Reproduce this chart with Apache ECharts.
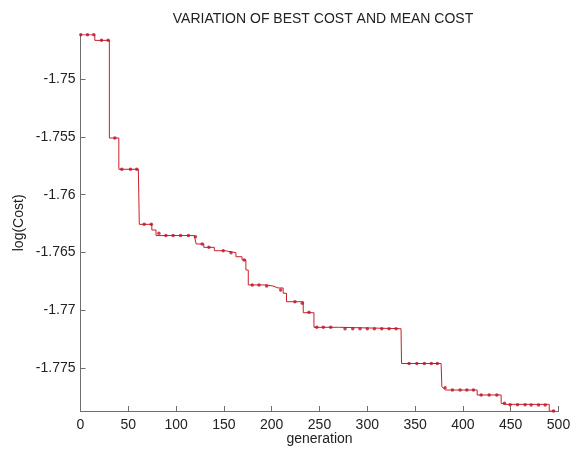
<!DOCTYPE html>
<html>
<head>
<meta charset="utf-8">
<script src="https://cdn.jsdelivr.net/npm/echarts@6/dist/echarts.min.js"></script>
<style>html,body{margin:0;padding:0;background:#fff}#c{width:582px;height:450px}</style>
</head>
<body>
<div id="c"></div>
<script>
// Best-cost staircase (vertices)
var lineGen = [0, 15, 15, 30.2, 30.2, 40.1, 40.1, 60.5, 61.5, 74.6, 74.6, 79, 79, 119, 119, 121, 121, 129, 129, 140, 140, 151, 151, 162.6, 162.6, 169, 169, 173, 173, 175.5, 175.5, 194, 201.3, 206.6, 212, 212, 215.5, 215.5, 233, 233, 244.2, 244.2, 270, 272, 335.3, 335.8, 377.2, 378, 382, 414.9, 414.9, 440, 440, 445, 490.3, 490.3, 496.6];
var lineCost = [-1.74617, -1.74617, -1.74666, -1.74666, -1.75510, -1.75510, -1.75780, -1.75780, -1.76256, -1.76256, -1.76305, -1.76305, -1.76353, -1.76353, -1.76363, -1.76363, -1.76426, -1.76426, -1.76455, -1.76455, -1.76484, -1.76484, -1.76501, -1.76501, -1.76536, -1.76536, -1.76564, -1.76564, -1.76651, -1.76651, -1.76780, -1.76780, -1.76789, -1.76806, -1.76806, -1.76852, -1.76852, -1.76925, -1.76925, -1.77020, -1.77020, -1.77146, -1.77146, -1.77158, -1.77158, -1.77459, -1.77459, -1.77660, -1.77688, -1.77688, -1.77731, -1.77731, -1.77803, -1.77812, -1.77812, -1.77870, -1.77870];
// Sampled points (markers)
var markGen = [0.3, 7.3, 13.9, 22.0, 28.9, 35.9, 43.2, 52.3, 58.9, 66.6, 74.1, 82.0, 89.3, 96.9, 104.7, 112.9, 120.2, 127.3, 134.3, 149.3, 157.4, 171.3, 179.6, 186.7, 194.7, 209.4, 224.3, 232.0, 239.0, 247.1, 254.0, 261.7, 276.7, 284.8, 292.4, 300.0, 307.4, 315.1, 322.8, 330.1, 343.7, 351.8, 359.7, 367.0, 373.3, 381.4, 389.0, 397.1, 404.1, 411.0, 419.1, 427.5, 435.5, 443.5, 449.4, 457.1, 465.1, 471.4, 479.1, 486.1, 494.8];
var markCost = [-1.74617, -1.74617, -1.74617, -1.74666, -1.74666, -1.75510, -1.75780, -1.75780, -1.75780, -1.76256, -1.76256, -1.76334, -1.76353, -1.76353, -1.76353, -1.76353, -1.76363, -1.76426, -1.76455, -1.76484, -1.76501, -1.76564, -1.76780, -1.76780, -1.76789, -1.76824, -1.76925, -1.76939, -1.77016, -1.77146, -1.77146, -1.77146, -1.77158, -1.77158, -1.77158, -1.77158, -1.77158, -1.77158, -1.77158, -1.77158, -1.77459, -1.77459, -1.77459, -1.77459, -1.77459, -1.77668, -1.77688, -1.77688, -1.77688, -1.77688, -1.77731, -1.77731, -1.77731, -1.77803, -1.77815, -1.77815, -1.77815, -1.77818, -1.77818, -1.77818, -1.77870];
var xTicks = [0, 50, 100, 150, 200, 250, 300, 350, 400, 450, 500];
var yTicks = [-1.775, -1.77, -1.765, -1.76, -1.755, -1.75];
var yLabels = ['-1.775', '-1.77', '-1.765', '-1.76', '-1.755', '-1.75'];

function zip(a, b) { return a.map(function (v, i) { return [v, b[i]]; }); }

var chart = echarts.init(document.getElementById('c'), null, {renderer: 'canvas'});
var font = 'Arial, "Liberation Sans", sans-serif';
chart.setOption({
  animation: false,
  backgroundColor: '#fff',
  title: {
    text: 'VARIATION OF BEST COST AND MEAN COST',
    left: 318, textAlign: 'center', top: 7,
    textStyle: {fontSize: 14, fontWeight: 'normal', color: '#222', fontFamily: font}
  },
  grid: {left: 80.5, right: 23.5, top: 34.7, bottom: 39, containLabel: false, outerBoundsMode: 'none'},
  xAxis: {
    type: 'value', min: xTicks[0], max: xTicks[xTicks.length - 1], interval: 50,
    name: 'generation', nameLocation: 'middle', nameGap: 21, nameMoveOverlap: false,
    nameTextStyle: {fontSize: 14, color: '#222', fontFamily: font},
    axisLine: {show: true, lineStyle: {color: '#6e6e6e', width: 1}},
    axisTick: {show: true, inside: true, length: 5, lineStyle: {color: '#6e6e6e'}},
    axisLabel: {fontSize: 14, color: '#222', margin: 7, fontFamily: font},
    splitLine: {show: false}
  },
  yAxis: {
    type: 'value', min: -1.778695, max: -1.74617,
    name: 'log(Cost)', nameLocation: 'middle', nameGap: 54, nameRotate: 90, nameMoveOverlap: false,
    nameTextStyle: {fontSize: 14, color: '#222', fontFamily: font},
    axisLine: {show: true, lineStyle: {color: '#6e6e6e', width: 1}},
    axisTick: {show: true, inside: true, length: 5, customValues: yTicks, lineStyle: {color: '#6e6e6e'}},
    axisLabel: {fontSize: 14, color: '#222', margin: 5, fontFamily: font, customValues: yTicks,
      formatter: function (v) { var i = yTicks.findIndex(function (t) { return Math.abs(t - v) < 1e-9; }); return i >= 0 ? yLabels[i] : ''; }},
    splitLine: {show: false}
  },
  series: [
    {type: 'line', data: zip(lineGen, lineCost), showSymbol: false, symbol: 'none',
      lineStyle: {color: '#c8202a', width: 1}, z: 2},
    {type: 'scatter', data: zip(markGen, markCost), symbol: 'circle', symbolSize: 3.5,
      itemStyle: {color: '#c00f28'}, z: 3}
  ]
});
</script>
</body>
</html>
